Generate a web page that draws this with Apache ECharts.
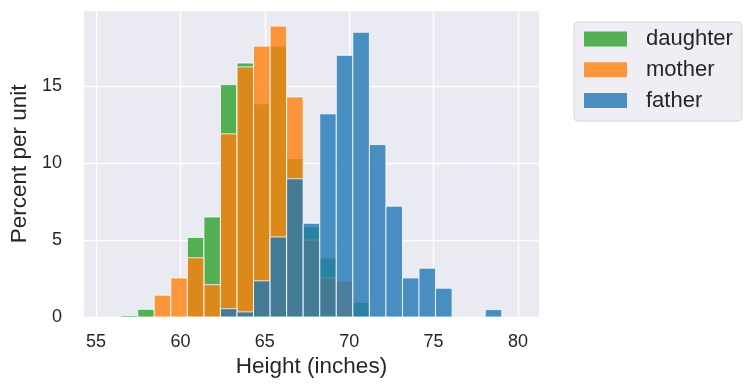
<!DOCTYPE html>
<html><head><meta charset="utf-8">
<script src="https://cdn.jsdelivr.net/npm/echarts@6/dist/echarts.min.js"></script>
<style>html,body{margin:0;padding:0;background:#fff}#c{width:752px;height:389px}</style>
</head><body><div id="c"></div>
<script>
// Histogram bins (left edges, width 1 inch)
const binStarts = [55,56,57,58,59,60,61,62,63,64,65,66,67,68,69,70,71,72,73,74,75,76,77,78,79];
const daughter = [0,0.1,0.5,0,0,5.17,6.5,15.1,16.5,13.85,17.6,10.3,5.86,3.84,0,0.95,0,0,0,0,0,0,0,0,0];
const mother   = [0,0,0,1.42,2.54,3.85,2.1,11.9,16.25,17.6,18.9,14.3,5.0,2.56,2.33,0,0,0,0,0,0,0,0,0,0];
const father   = [0,0,0,0,0,0,0,0.54,0.33,2.35,5.2,8.98,6.09,13.2,17.0,18.5,11.2,7.2,2.54,3.17,1.87,0,0,0.48,0];
const seriesNames = ['daughter','mother','father'];
const seriesColors = ['#2ca02c','#ff7f0e','#1f77b4'];
const xTicks = [55,60,65,70,75,80];
const yTicks = [0,5,10,15];
const xLabel = 'Height (inches)';
const yLabel = 'Percent per unit';

const TXT = '#262626';
const FONT = "'Liberation Sans', Arial, sans-serif";

function toData(vals){
  const out = [];
  vals.forEach((v,i)=>{ if (v > 0) out.push([binStarts[i], binStarts[i]+1, v]); });
  return out;
}
function renderItem(params, api){
  const p0 = api.coord([api.value(0), api.value(2)]);
  const p1 = api.coord([api.value(1), 0]);
  return {type:'rect', shape:{x:p0[0], y:p0[1], width:p1[0]-p0[0], height:p1[1]-p0[1]},
    style:{fill: api.visual('color'), stroke:'#ffffff', lineWidth:1, opacity:0.8}};
}
const allVals = [daughter, mother, father];

const chart = echarts.init(document.getElementById('c'), null, {renderer:'canvas'});
chart.setOption({
  animation:false,
  textStyle:{fontFamily:FONT, color:TXT},
  grid:[
    {left:75, right:213, top:10.7, bottom:72, show:true, backgroundColor:'#EAEAF2', borderWidth:0, z:-1},
    {left:96.09, right:234.1, top:10.7, bottom:72, show:false}
  ],
  xAxis:[
    {type:'value', gridIndex:0, min:53.75, max:81.25, axisLine:{show:false}, axisTick:{show:false},
     axisLabel:{show:false}, splitLine:{show:false},
     name:xLabel, nameLocation:'middle', nameGap:38,
     nameTextStyle:{fontSize:22.5, color:TXT, fontFamily:FONT}},
    {type:'value', gridIndex:1, min:xTicks[0], max:xTicks[xTicks.length-1], interval:5,
     axisLine:{show:false}, axisTick:{show:false},
     axisLabel:{fontSize:18, color:TXT, margin:16, fontFamily:FONT},
     splitLine:{show:true, lineStyle:{color:'#ffffff', width:1.4}}}
  ],
  yAxis:[
    {type:'value', gridIndex:0, min:yTicks[0], max:19.9, interval:5,
     axisLine:{show:false}, axisTick:{show:false},
     axisLabel:{fontSize:18, color:TXT, margin:22, fontFamily:FONT,
       formatter:v => (yTicks.indexOf(v) >= 0 ? String(v) : '')},
     splitLine:{show:true, lineStyle:{color:'#ffffff', width:1.4}},
     name:yLabel, nameLocation:'middle', nameGap:48, nameRotate:90,
     nameTextStyle:{fontSize:22.5, color:TXT, fontFamily:FONT}},
    {type:'value', gridIndex:1, min:0, max:1, show:false}
  ],
  legend:{
    orient:'vertical', left:574, top:22,
    data:seriesNames, icon:'rect', itemWidth:43, itemHeight:15, itemGap:8.8,
    padding:[6,9,9.5,10],
    backgroundColor:'#EEEEF4', borderColor:'#D6D6D6', borderWidth:1, borderRadius:4,
    textStyle:{fontSize:22, color:TXT, fontFamily:FONT, lineHeight:22, padding:[0,0,0,14]}
  },
  series: seriesNames.map((n,i)=>({
    type:'custom', name:n, xAxisIndex:0, yAxisIndex:0,
    renderItem, itemStyle:{color:seriesColors[i], opacity:0.8},
    data: toData(allVals[i]), z:2+i
  }))
});
</script></body></html>
